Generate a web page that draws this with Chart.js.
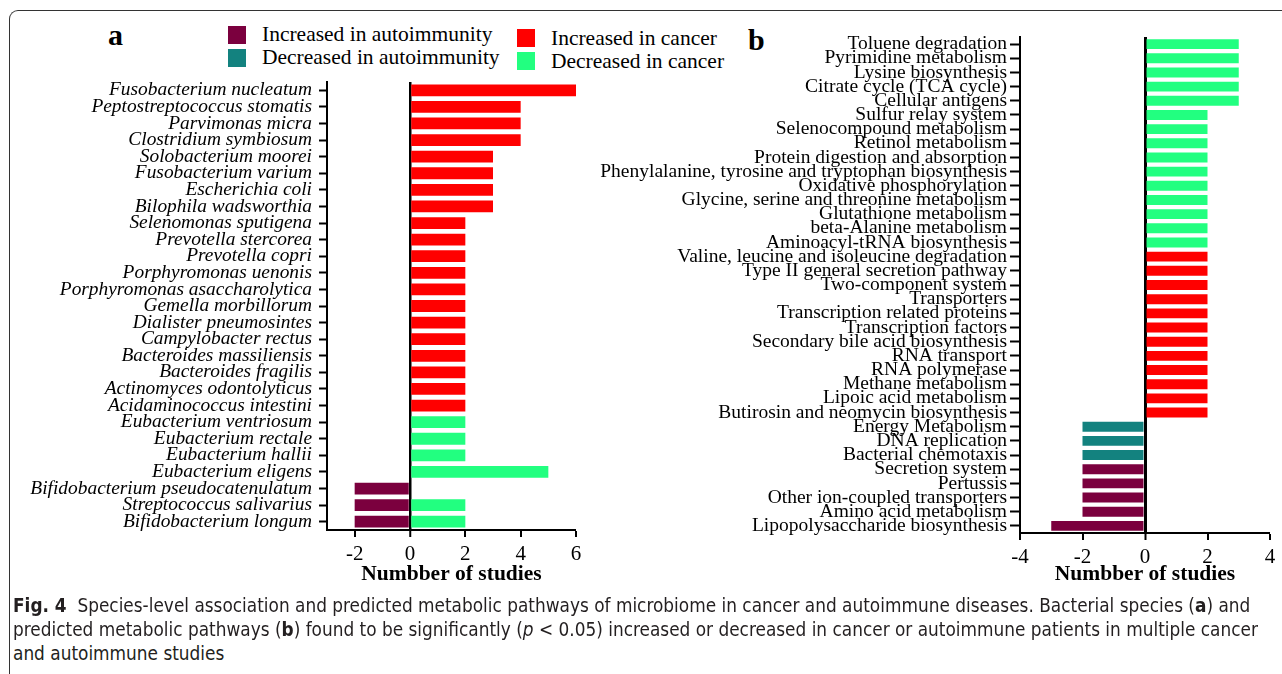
<!DOCTYPE html>
<html>
<head>
<meta charset="utf-8">
<script src="https://cdn.jsdelivr.net/npm/chart.js@4.4.1/dist/chart.umd.min.js"></script>
<style>
  body { margin:0; width:1282px; height:674px; overflow:hidden; background:#fff; position:relative; font-family:"Liberation Serif", serif; }
  #frame { position:absolute; left:9px; top:10px; width:1300px; height:700px; border-top:1.5px solid #333; border-left:1.5px solid #333; border-top-left-radius:9px; }
  .abs { position:absolute; white-space:nowrap; line-height:1; }
  .panel { font-weight:bold; font-size:30px; color:#000; }
  .leg { font-size:21.5px; color:#000; }
  .sq { position:absolute; width:18px; height:18px; }
  .cap { font-family:"Liberation Sans Narrow","DejaVu Sans Condensed","Open Sans",sans-serif; font-size:19px; color:#231f20; transform-origin:0 0; }
  canvas { position:absolute; }
</style>
</head>
<body>
<div id="frame"></div>
<div class="abs panel" style="left:108px;top:20px">a</div>
<div class="abs panel" style="left:748px;top:25px">b</div>
<div id="legend"></div>

<canvas id="chartA" width="640" height="600" style="left:0;top:0"></canvas>
<canvas id="chartB" width="692" height="600" style="left:590px;top:0"></canvas>

<div class="abs cap" style="left:13px;top:596px"><b>Fig. 4</b>&nbsp; Species-level association and predicted metabolic pathways of microbiome in cancer and autoimmune diseases. Bacterial species (<b>a</b>) and</div>
<div class="abs cap" style="left:13px;top:620px">predicted metabolic pathways (<b>b</b>) found to be significantly (<i>p</i> &lt; 0.05) increased or decreased in cancer or autoimmune patients in multiple cancer</div>
<div class="abs cap" style="left:13px;top:644px">and autoimmune studies</div>

<script>
// series names and colours
var seriesNames = ['Increased in autoimmunity', 'Decreased in autoimmunity', 'Increased in cancer', 'Decreased in cancer'];
var seriesColors = ['#7b003e', '#13827f', '#ff0000', '#22ff80'];

// panel a: bacterial species
var species = ['Fusobacterium nucleatum', 'Peptostreptococcus stomatis', 'Parvimonas micra', 'Clostridium symbiosum',
  'Solobacterium moorei', 'Fusobacterium varium', 'Escherichia coli', 'Bilophila wadsworthia',
  'Selenomonas sputigena', 'Prevotella stercorea', 'Prevotella copri', 'Porphyromonas uenonis',
  'Porphyromonas asaccharolytica', 'Gemella morbillorum', 'Dialister pneumosintes', 'Campylobacter rectus',
  'Bacteroides massiliensis', 'Bacteroides fragilis', 'Actinomyces odontolyticus', 'Acidaminococcus intestini',
  'Eubacterium ventriosum', 'Eubacterium rectale', 'Eubacterium hallii', 'Eubacterium eligens',
  'Bifidobacterium pseudocatenulatum', 'Streptococcus salivarius', 'Bifidobacterium longum'];
var speciesIncAuto   = [null,null,null,null,null,null,null,null,null,null,null,null,null,null,null,null,null,null,null,null,null,null,null,null,-2,-2,-2];
var speciesIncCancer = [6,4,4,4,3,3,3,3,2,2,2,2,2,2,2,2,2,2,2,2,null,null,null,null,null,null,null];
var speciesDecCancer = [null,null,null,null,null,null,null,null,null,null,null,null,null,null,null,null,null,null,null,null,2,2,2,5,null,2,2];
var ticksA = [-2, 0, 2, 4, 6];

// panel b: predicted metabolic pathways
var pathways = ['Toluene degradation', 'Pyrimidine metabolism', 'Lysine biosynthesis', 'Citrate cycle (TCA cycle)',
  'Cellular antigens', 'Sulfur relay system', 'Selenocompound metabolism', 'Retinol metabolism',
  'Protein digestion and absorption', 'Phenylalanine, tyrosine and tryptophan biosynthesis', 'Oxidative phosphorylation',
  'Glycine, serine and threonine metabolism', 'Glutathione metabolism', 'beta-Alanine metabolism', 'Aminoacyl-tRNA biosynthesis',
  'Valine, leucine and isoleucine degradation', 'Type II general secretion pathway', 'Two-component system', 'Transporters',
  'Transcription related proteins', 'Transcription factors', 'Secondary bile acid biosynthesis', 'RNA transport',
  'RNA polymerase', 'Methane metabolism', 'Lipoic acid metabolism', 'Butirosin and neomycin biosynthesis',
  'Energy Metabolism', 'DNA replication', 'Bacterial chemotaxis', 'Secretion system', 'Pertussis',
  'Other ion-coupled transporters', 'Amino acid metabolism', 'Lipopolysaccharide biosynthesis'];
var pathIncAuto   = [null,null,null,null,null,null,null,null,null,null,null,null,null,null,null,null,null,null,null,null,null,null,null,null,null,null,null,null,null,null,-2,-2,-2,-2,-3];
var pathDecAuto   = [null,null,null,null,null,null,null,null,null,null,null,null,null,null,null,null,null,null,null,null,null,null,null,null,null,null,null,-2,-2,-2,null,null,null,null,null];
var pathIncCancer = [null,null,null,null,null,null,null,null,null,null,null,null,null,null,null,2,2,2,2,2,2,2,2,2,2,2,2,null,null,null,null,null,null,null,null];
var pathDecCancer = [3,3,3,3,3,2,2,2,2,2,2,2,2,2,2,null,null,null,null,null,null,null,null,null,null,null,null,null,null,null,null,null,null,null,null];
var ticksB = [-4, -2, 0, 2, 4];

// legend (html, two columns)
var legPos = [[228, 26, 262, 42], [228, 49, 262, 65], [517, 29, 551, 46], [517, 52, 551, 69]];
var legHtml = '';
for (var i = 0; i < seriesNames.length; i++) {
  var p = legPos[i];
  legHtml += '<div class="sq" style="left:' + p[0] + 'px;top:' + p[1] + 'px;background:' + seriesColors[i] + '"></div>';
  legHtml += '<div class="abs leg" style="left:' + p[2] + 'px;top:' + (p[3] - 18) + 'px">' + seriesNames[i] + '</div>';
}
document.getElementById('legend').innerHTML = legHtml;

function makeBar(id, labels, sets, tickVals, opt) {
  return new Chart(document.getElementById(id), {
    type: 'bar',
    data: {
      labels: labels,
      datasets: sets.map(function (s) {
        return { label: seriesNames[s[0]], data: s[1], backgroundColor: seriesColors[s[0]],
          borderWidth: 0, categoryPercentage: 1, barPercentage: opt.bar };
      })
    },
    options: {
      indexAxis: 'y',
      responsive: false,
      animation: false,
      layout: { padding: opt.pad },
      plugins: { legend: { display: false }, tooltip: { enabled: false } },
      scales: {
        y: {
          stacked: true,
          afterFit: function (s) { s.width = opt.yw; },
          border: { display: true, color: '#000', width: 2 },
          grid: { offset: false, drawOnChartArea: false, drawTicks: true, tickLength: opt.tl, tickWidth: 2, tickColor: '#000' },
          ticks: { autoSkip: false, color: '#000', padding: opt.tp,
            font: { family: 'Liberation Serif', size: opt.fs, style: opt.style } }
        },
        x: {
          stacked: true,
          min: opt.min, max: opt.max,
          z: 1,
          afterFit: function (s) { s.height = opt.xh; },
          afterBuildTicks: function (s) { s.ticks = tickVals.map(function (v) { return { value: v }; }); },
          border: { display: true, color: '#000', width: 2 },
          grid: {
            color: function (c) { return c.tick && c.tick.value === 0 ? '#000' : 'rgba(0,0,0,0)'; },
            lineWidth: function (c) { return c.tick && c.tick.value === 0 ? opt.zw : 0; },
            tickColor: '#000', tickWidth: 2, tickLength: 7
          },
          ticks: { color: '#000', padding: 5, maxRotation: 0, font: { family: 'Liberation Serif', size: 21 } },
          title: { display: true, text: 'Numbber of studies', color: '#000', padding: { top: 0, bottom: 13 },
            font: { family: 'Liberation Serif', size: 21.5, weight: 'bold' } }
        }
      }
    }
  });
}

makeBar('chartA', species, [[0, speciesIncAuto], [2, speciesIncCancer], [3, speciesDecCancer]], ticksA,
  { bar: 0.71, pad: { top: 82, right: 64, left: 0, bottom: 0 }, yw: 327, xh: 70, tl: 8, tp: 7, fs: 19.4, style: 'italic', min: -3, max: 6, zw: 2.5 });

makeBar('chartB', pathways, [[0, pathIncAuto], [1, pathDecAuto], [2, pathIncCancer], [3, pathDecCancer]], ticksB,
  { bar: 0.7, pad: { top: 37, right: 12, left: 0, bottom: 0 }, yw: 430, xh: 67, tl: 10, tp: 3, fs: 19.5, style: 'normal', min: -4, max: 4, zw: 3 });

// squeeze caption lines to the reference width
var caps = document.querySelectorAll('.cap');
var k = 1237 / caps[0].offsetWidth;
caps.forEach(function (c) { c.style.transform = 'scaleX(' + k + ')'; });
</script>
</body>
</html>
